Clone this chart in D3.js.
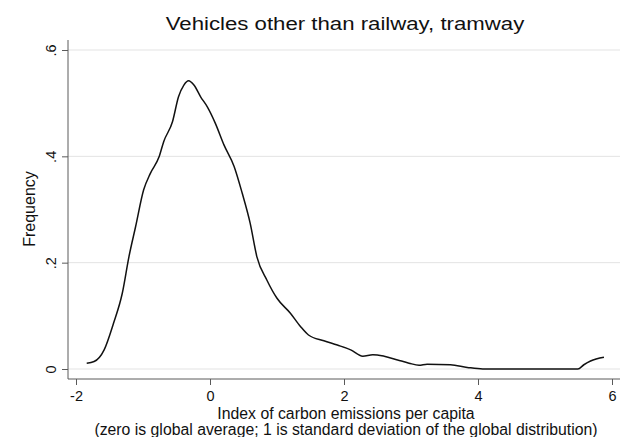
<!DOCTYPE html>
<html>
<head>
<meta charset="utf-8">
<script src="https://cdn.jsdelivr.net/npm/d3@7"></script>
<style>
  html, body { margin: 0; padding: 0; background: #fff; }
  svg { display: block; }
  text { font-family: "Liberation Sans", Arial, Helvetica, sans-serif; fill: #111; }
</style>
</head>
<body>
<svg id="chart" width="620" height="437"></svg>
<script>
// Kernel density of the carbon-emissions index (vehicles other than railway, tramway)
const indexValues = [-1.84, -1.73, -1.58, -1.44, -1.31, -1.21, -1.11, -0.99, -0.89, -0.76,
  -0.69, -0.56, -0.47, -0.39, -0.32, -0.24, -0.14, -0.04, 0.08, 0.21,
  0.36, 0.48, 0.60, 0.70, 0.85, 1.00, 1.20, 1.35, 1.47, 1.70,
  1.90, 2.10, 2.28, 2.43, 2.60, 2.80, 2.97, 3.12, 3.24, 3.59,
  3.84, 4.07, 5.49, 5.58, 5.68, 5.88];
const frequency = [0.011, 0.014, 0.036, 0.086, 0.142, 0.211, 0.268, 0.337, 0.368, 0.399,
  0.428, 0.465, 0.512, 0.534, 0.542, 0.534, 0.512, 0.493, 0.462, 0.421,
  0.381, 0.331, 0.274, 0.211, 0.167, 0.133, 0.105, 0.080, 0.064, 0.053,
  0.045, 0.036, 0.024, 0.027, 0.024, 0.017, 0.011, 0.007, 0.009, 0.008,
  0.003, 0.000, 0.000, 0.008, 0.015, 0.022];

const xTicks = [-2, 0, 2, 4, 6];
const xTickLabels = ["-2", "0", "2", "4", "6"];
const yTicks = [0, 0.2, 0.4, 0.6];
const yTickLabels = ["0", ".2", ".4", ".6"];

const titleText = "Vehicles other than railway, tramway";
const xTitleLines = ["Index of carbon emissions per capita",
  "(zero is global average; 1 is standard deviation of the global distribution)"];
const yTitleText = "Frequency";

const svg = d3.select("#chart");

// plot region
const region = { left: 68, right: 620, top: 40, bottom: 379 };

const x = d3.scaleLinear().domain([-2, 6]).range([76, 612]);
const y = d3.scaleLinear().domain([0, 0.6]).range([369, 50]);

const axisColor = "#5a5a5a";
const fontStack = '"Liberation Sans", Arial, sans-serif';

// horizontal grid lines
svg.append("g")
  .selectAll("line")
  .data(yTicks)
  .join("line")
  .attr("x1", region.left)
  .attr("x2", region.right)
  .attr("y1", d => y(d))
  .attr("y2", d => y(d))
  .attr("stroke", "#e3e3e3")
  .attr("stroke-width", 1);

// density curve
const points = indexValues.map((v, i) => [v, frequency[i]]);
const line = d3.line()
  .x(d => x(d[0]))
  .y(d => y(d[1]))
  .curve(d3.curveMonotoneX);

svg.append("path")
  .datum(points)
  .attr("d", line)
  .attr("fill", "none")
  .attr("stroke", "#111")
  .attr("stroke-width", 1.5)
  .attr("stroke-linejoin", "round");

// y axis
const yAxis = d3.axisLeft(y)
  .tickValues(yTicks)
  .tickSize(6)
  .tickPadding(6)
  .tickFormat((d, i) => yTickLabels[i]);

const gy = svg.append("g")
  .attr("transform", `translate(${region.left},0)`)
  .call(yAxis);
gy.select(".domain").remove();
gy.selectAll(".tick line").attr("stroke", axisColor);
gy.selectAll(".tick text")
  .attr("x", null).attr("dy", null)
  .attr("text-anchor", "middle")
  .attr("transform", "translate(-12,0) rotate(-90)")
  .attr("font-size", 14.5)
  .attr("fill", "#111")
  .style("font-family", fontStack);
gy.append("line")
  .attr("x1", 0).attr("x2", 0)
  .attr("y1", region.top).attr("y2", region.bottom)
  .attr("stroke", axisColor);

// x axis
const xAxis = d3.axisBottom(x)
  .tickValues(xTicks)
  .tickSize(6)
  .tickPadding(5)
  .tickFormat((d, i) => xTickLabels[i]);

const gx = svg.append("g")
  .attr("transform", `translate(0,${region.bottom})`)
  .call(xAxis);
gx.select(".domain").remove();
gx.selectAll(".tick line").attr("stroke", axisColor);
gx.selectAll(".tick text")
  .attr("dy", null)
  .attr("y", 21.5)
  .attr("font-size", 14.5)
  .attr("fill", "#111")
  .style("font-family", fontStack);
gx.append("line")
  .attr("x1", region.left).attr("x2", region.right)
  .attr("y1", 0).attr("y2", 0)
  .attr("stroke", axisColor);

// titles
svg.append("text")
  .attr("transform", "translate(345,29.5) scale(1.2,1)")
  .attr("text-anchor", "middle")
  .attr("font-size", 18.5)
  .text(titleText);

svg.append("text")
  .attr("transform", "translate(29,209) rotate(-90)")
  .attr("dy", "0.35em")
  .attr("text-anchor", "middle")
  .attr("font-size", 16)
  .text(yTitleText);

svg.append("g")
  .selectAll("text")
  .data(xTitleLines)
  .join("text")
  .attr("x", 346)
  .attr("y", (d, i) => 419 + i * 15.5)
  .attr("text-anchor", "middle")
  .attr("font-size", 15.8)
  .text(d => d);
</script>
</body>
</html>
